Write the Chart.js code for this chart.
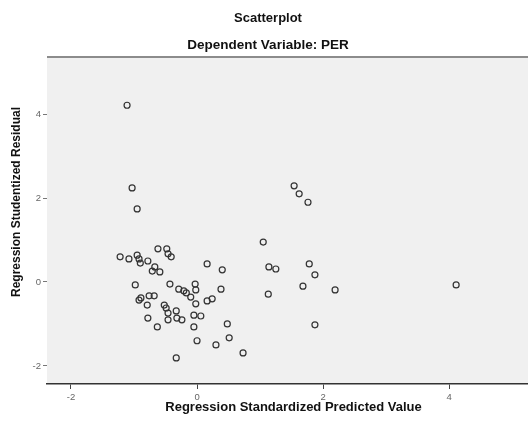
<!DOCTYPE html>
<html>
<head>
<meta charset="utf-8">
<script src="https://cdn.jsdelivr.net/npm/chart.js@4.4.1/dist/chart.umd.min.js"></script>
<style>
  html, body { margin: 0; padding: 0; background: #fff; }
  #wrap { width: 528px; height: 423px; }
</style>
</head>
<body>
<div id="wrap"><canvas id="chart" width="528" height="423"></canvas></div>
<script>
const chartTitle = 'Scatterplot';
const chartSubtitle = 'Dependent Variable: PER';
const xAxisTitle = 'Regression Standardized Predicted Value';
const yAxisTitle = 'Regression Studentized Residual';

const xTicks = [-2, 0, 2, 4];
const yTicks = [-2, 0, 2, 4];

// values
const predictedValues = [
  -1.11, -1.03, -0.95, 1.54, 1.62, 1.76, 1.05, 1.14, 1.25, 1.78, 1.87, 1.68, 1.13, 2.19, 1.87, 4.11,
  -1.22, -1.08, -0.95, -0.92, -0.90, -0.78, -0.62, -0.48, -0.46, -0.41, -0.67, -0.71, -0.59, 0.16, 0.40,
  -0.98, -0.43, -0.29, -0.21, -0.17, -0.03, -0.02, -0.10, 0.38, -0.89, -0.92, -0.76, -0.68, -0.79,
  -0.52, -0.49, -0.33, -0.46, -0.02, 0.16, 0.24, -0.05, 0.06, -0.78, -0.46, -0.32, -0.24, -0.63,
  -0.05, 0.48, 0.51, 0.00, 0.30, 0.73, -0.33
];
const studentizedResiduals = [
  4.21, 2.24, 1.74, 2.29, 2.10, 1.90, 0.95, 0.36, 0.31, 0.43, 0.17, -0.10, -0.29, -0.19, -1.02, -0.07,
  0.60, 0.55, 0.64, 0.55, 0.45, 0.50, 0.79, 0.79, 0.67, 0.60, 0.36, 0.26, 0.24, 0.43, 0.29,
  -0.07, -0.05, -0.17, -0.21, -0.26, -0.05, -0.19, -0.36, -0.17, -0.38, -0.43, -0.33, -0.33, -0.55,
  -0.55, -0.62, -0.69, -0.74, -0.52, -0.45, -0.40, -0.79, -0.81, -0.86, -0.90, -0.86, -0.90, -1.07,
  -1.07, -1.00, -1.33, -1.40, -1.50, -1.69, -1.81
];

const points = predictedValues.map((x, i) => ({ x: x, y: studentizedResiduals[i] }));

const plotFrame = {
  id: 'plotFrame',
  beforeDraw(chart) {
    const { ctx, chartArea: a } = chart;
    ctx.save();
    ctx.fillStyle = '#f0f0f0';
    ctx.fillRect(a.left, a.top, a.right - a.left, a.bottom - a.top);
    ctx.strokeStyle = '#8c8c8c';
    ctx.lineWidth = 2;
    ctx.beginPath();
    ctx.moveTo(a.left, a.top);
    ctx.lineTo(a.right, a.top);
    ctx.stroke();
    ctx.restore();
  },
  afterDraw(chart) {
    const { ctx, chartArea: a } = chart;
    ctx.save();
    ctx.fillStyle = '#111';
    ctx.textAlign = 'center';
    ctx.textBaseline = 'middle';
    ctx.font = 'bold 13px "Liberation Sans", Arial, sans-serif';
    ctx.fillText(xAxisTitle, (a.left + a.right) / 2 + 6, 407);
    ctx.translate(17, 202);
    ctx.rotate(-Math.PI / 2);
    ctx.font = 'bold 12px "Liberation Sans", Arial, sans-serif';
    ctx.fillText(yAxisTitle, 0, 0);
    ctx.restore();
  }
};

const tickFont = { family: 'Liberation Sans', size: 9.5 };

new Chart(document.getElementById('chart'), {
  type: 'scatter',
  data: {
    datasets: [{
      data: points,
      pointStyle: 'circle',
      pointRadius: 3,
      pointBorderWidth: 1.2,
      borderColor: '#333',
      backgroundColor: 'rgba(0,0,0,0)'
    }]
  },
  options: {
    responsive: false,
    animation: false,
    devicePixelRatio: 1,
    layout: { padding: { left: 8 }, autoPadding: false },
    plugins: {
      legend: { display: false },
      tooltip: { enabled: false },
      title: {
        display: true,
        text: chartTitle,
        color: '#111',
        font: { family: 'Liberation Sans', size: 13, weight: 'bold' },
        padding: { top: 10.2, bottom: 11.1 }
      },
      subtitle: {
        display: true,
        text: chartSubtitle,
        color: '#111',
        font: { family: 'Liberation Sans', size: 13.5, weight: 'bold' },
        padding: { top: 0, bottom: 3.9 }
      }
    },
    scales: {
      x: {
        type: 'linear',
        min: -2.38,
        max: 5.25,
        afterBuildTicks: s => { s.ticks = xTicks.map(v => ({ value: v })); },
        afterFit: s => { s.height = 39; },
        border: { display: true, color: '#333', width: 1.5 },
        grid: { drawOnChartArea: false, drawTicks: true, tickLength: 5, color: '#444' },
        ticks: { padding: 3, color: '#666', font: tickFont }
      },
      y: {
        type: 'linear',
        min: -2.43,
        max: 5.36,
        afterBuildTicks: s => { s.ticks = yTicks.map(v => ({ value: v })); },
        afterFit: s => { s.width = 39; },
        border: { display: false },
        grid: { drawOnChartArea: false, drawTicks: true, tickLength: 4, color: '#777' },
        ticks: { padding: 2, color: '#666', font: tickFont }
      }
    }
  },
  plugins: [plotFrame]
});
</script>
</body>
</html>
